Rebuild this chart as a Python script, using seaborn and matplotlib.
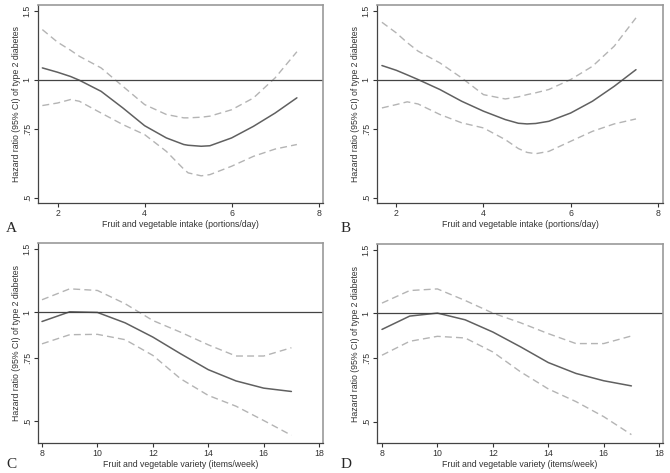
import numpy as np
import pandas as pd
import seaborn as sns
import matplotlib.pyplot as plt
from matplotlib.ticker import FixedLocator, NullLocator

# Panels A/B: intake (portions/day)
a_x = [1.65, 2.0, 2.3, 2.5, 3.0, 3.5, 4.0, 4.5, 4.9, 5.0, 5.3, 5.5, 6.0, 6.5, 7.0, 7.5]
a_hr = [1.073, 1.046, 1.020, 0.998, 0.935, 0.848, 0.764, 0.711, 0.684, 0.681, 0.677, 0.679,
        0.711, 0.761, 0.823, 0.900]
a_hi = [1.344, 1.248, 1.190, 1.149, 1.073, 0.963, 0.865, 0.816, 0.800, 0.800, 0.803, 0.808,
        0.839, 0.899, 1.012, 1.180]
a_lo = [0.860, 0.873, 0.891, 0.882, 0.823, 0.769, 0.725, 0.657, 0.592, 0.579, 0.569, 0.573,
        0.602, 0.638, 0.666, 0.684]

b_x = [1.67, 2.0, 2.25, 2.5, 3.0, 3.5, 4.0, 4.5, 4.8, 5.0, 5.2, 5.5, 6.0, 6.5, 7.0, 7.5]
b_hr = [1.088, 1.058, 1.030, 1.002, 0.945, 0.882, 0.832, 0.792, 0.775, 0.772, 0.774, 0.784,
        0.823, 0.882, 0.963, 1.062]
b_hi = [1.403, 1.318, 1.245, 1.184, 1.105, 1.012, 0.917, 0.894, 0.905, 0.917, 0.927, 0.945,
        1.002, 1.083, 1.219, 1.440]
b_lo = [0.848, 0.865, 0.879, 0.868, 0.816, 0.777, 0.754, 0.704, 0.668, 0.653, 0.648, 0.657,
        0.697, 0.739, 0.772, 0.795]

# Panels C/D: variety (items/week)
variety_x = [8, 9, 10, 11, 12, 13, 14, 15, 16, 17]
c_hr = [0.944, 1.004, 1.000, 0.936, 0.855, 0.769, 0.695, 0.647, 0.618, 0.605]
c_hi = [1.084, 1.162, 1.150, 1.057, 0.950, 0.882, 0.814, 0.758, 0.758, 0.799]
c_lo = [0.819, 0.868, 0.870, 0.841, 0.761, 0.656, 0.590, 0.551, 0.503, 0.458]

d_hr = [0.901, 0.981, 1.000, 0.958, 0.886, 0.806, 0.729, 0.680, 0.649, 0.628]
d_hi = [1.066, 1.155, 1.167, 1.084, 1.000, 0.940, 0.877, 0.823, 0.823, 0.864]
d_lo = [0.764, 0.835, 0.862, 0.853, 0.780, 0.687, 0.616, 0.568, 0.516, 0.460]

ylab = "Hazard ratio (95% CI) of type 2 diabetes"
xlab_intake = "Fruit and vegetable intake (portions/day)"
xlab_variety = "Fruit and vegetable variety (items/week)"

sns.set_style("white")
plt.rcParams['font.family'] = ['Liberation Sans', 'DejaVu Sans']

fig = plt.figure(figsize=(6.7, 4.73), dpi=100)
W, H = 670, 473

def make_ax(l, t, r, b):
    return fig.add_axes([l / W, 1 - b / H, (r - l) / W, (b - t) / H])

panels = [
    ("A", make_ax(38, 5, 323, 203), a_x, a_hr, a_hi, a_lo, xlab_intake,
     (1.55, 8.1), (0.485, 1.553), [2, 4, 6, 8], (6, 228)),
    ("B", make_ax(377, 5, 663, 203), b_x, b_hr, b_hi, b_lo, xlab_intake,
     (1.557, 8.12), (0.485, 1.553), [2, 4, 6, 8], (341, 228)),
    ("C", make_ax(38, 243, 323, 443), variety_x, c_hr, c_hi, c_lo, xlab_variety,
     (7.856, 18.14), (0.436, 1.555), [8, 10, 12, 14, 16, 18], (6, 464)),
    ("D", make_ax(377, 244, 663, 443), variety_x, d_hr, d_hi, d_lo, xlab_variety,
     (7.82, 18.14), (0.436, 1.555), [8, 10, 12, 14, 16, 18], (341, 464)),
]

for letter, ax, xs, hr, hi, lo, xlab, xl, yl, xt, lpos in panels:
    df = pd.DataFrame({"x": xs, "hr": hr, "hi": hi, "lo": lo})
    ax.set_yscale("log")
    sns.lineplot(data=df, x="x", y="hi", ax=ax, color="#b4b4b4", lw=1.0,
                 linestyle=(0, (5, 3)))
    sns.lineplot(data=df, x="x", y="lo", ax=ax, color="#b4b4b4", lw=1.0,
                 linestyle=(0, (5, 3)))
    sns.lineplot(data=df, x="x", y="hr", ax=ax, color="#606060", lw=1.1)
    ax.axhline(1, color="#444444", lw=0.9)
    ax.set_xlim(*xl)
    ax.set_ylim(*yl)
    ax.yaxis.set_major_locator(FixedLocator([0.5, 0.75, 1, 1.5]))
    ax.yaxis.set_minor_locator(NullLocator())
    ax.set_yticklabels([".5", ".75", "1", "1.5"], rotation=90, va="center")
    ax.set_xticks(xt)
    ax.tick_params(axis="both", direction="out", length=3, width=0.8,
                   labelsize=6.3, color="#333333", labelcolor="#333333", pad=1.5)
    ax.tick_params(axis="both", which="both", bottom=True, left=True)
    ax.set_xlabel(xlab, fontsize=6.3, color="#333333", labelpad=1)
    ax.set_ylabel(ylab, fontsize=6.3, color="#333333", labelpad=1)
    for side in ["left", "bottom"]:
        ax.spines[side].set_color("#444444")
        ax.spines[side].set_linewidth(0.9)
    for side in ["top", "right"]:
        ax.spines[side].set_color("#999999")
        ax.spines[side].set_linewidth(1.2)
    fig.text(lpos[0] / W, 1 - lpos[1] / H, letter, fontsize=11,
             family="Liberation Serif", ha="left", va="center")

fig.savefig("out.png", dpi=100)
